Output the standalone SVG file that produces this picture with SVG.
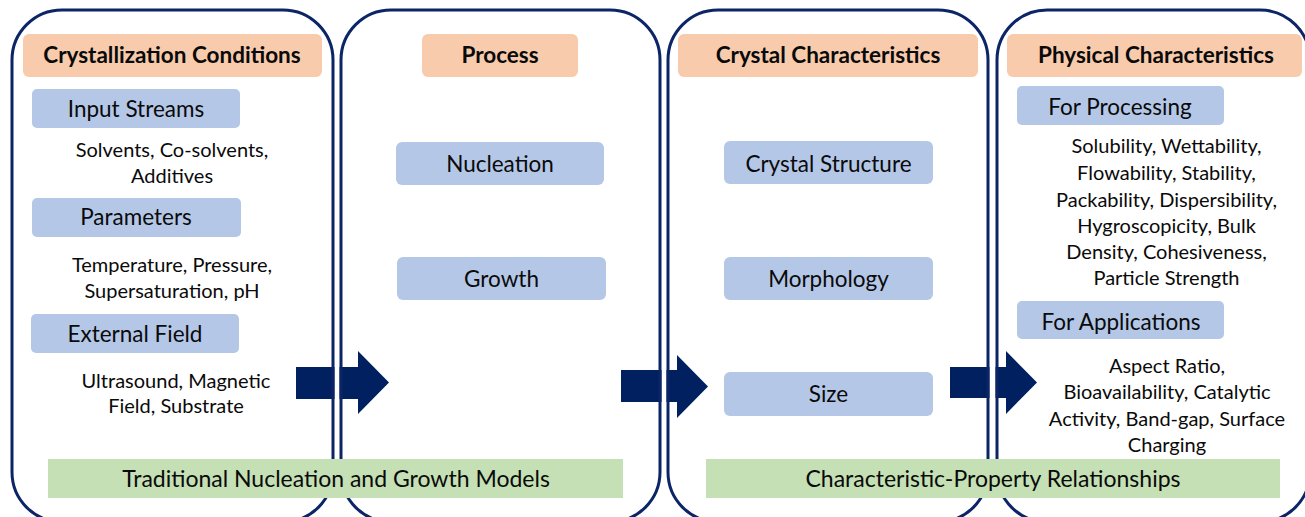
<svg xmlns="http://www.w3.org/2000/svg" width="1305" height="517" viewBox="0 0 1305 517">
  <style>
    .panel { fill: none; stroke: #0B2566; stroke-width: 3; }
    .hdr { fill: #F8CBAD; }
    .box { fill: #B4C7E7; }
    .bar { fill: #C5E0B4; }
    .arrow { fill: #002060; }
    .gap { fill: #FFFFFF; }
    text { font-family: Lato, "Liberation Sans", sans-serif; fill: #0A0A0A; text-anchor: middle; }
    .ht { font-size: 22.5px; font-weight: bold; }
    .bt { font-size: 22.5px; }
    .tx { font-size: 20px; }
    .gt { font-size: 23px; }
  </style>
  <rect width="1305" height="517" fill="#FFFFFF"/>

  <g id="connectors">
    <polygon class="arrow" points="296,367 358,367 358,351 389,382.5 358,414 358,399 296,399"/>
    <polygon class="arrow" points="621,370 677,370 677,355 708,386.5 677,418 677,402 621,402"/>
    <polygon class="arrow" points="950,367 1006,367 1006,351 1037,382.5 1006,414 1006,398 950,398"/>
    <rect class="gap" x="334.5" y="360" width="5" height="46"/>
    <rect class="gap" x="661.5" y="360" width="5" height="50"/>
    <rect class="gap" x="989.5" y="360" width="6" height="46"/>
  </g>

  <g id="panel-conditions">
    <rect class="panel" x="12" y="10" width="321" height="512" rx="50"/>
    <rect class="hdr" x="23" y="34" width="299" height="43" rx="6"/>
    <text class="ht" x="172" y="63">Crystallization Conditions</text>
    <rect class="box" x="32" y="89" width="208" height="39" rx="5"/>
    <text class="bt" x="136" y="117">Input Streams</text>
    <text class="tx" x="172" y="157">Solvents, Co-solvents,</text>
    <text class="tx" x="172" y="183">Additives</text>
    <rect class="box" x="32" y="198" width="209" height="39" rx="5"/>
    <text class="bt" x="136" y="225">Parameters</text>
    <text class="tx" x="172" y="272">Temperature, Pressure,</text>
    <text class="tx" x="172" y="298">Supersaturation, pH</text>
    <rect class="box" x="31" y="314" width="208" height="39" rx="5"/>
    <text class="bt" x="135" y="342">External Field</text>
    <text class="tx" x="176" y="388">Ultrasound, Magnetic</text>
    <text class="tx" x="176" y="413">Field, Substrate</text>
  </g>

  <g id="panel-process">
    <rect class="panel" x="341" y="10" width="319" height="512" rx="50"/>
    <rect class="hdr" x="422" y="34" width="156" height="43" rx="6"/>
    <text class="ht" x="500" y="63">Process</text>
    <rect class="box" x="396" y="142" width="208" height="43" rx="6"/>
    <text class="bt" x="500" y="172">Nucleation</text>
    <rect class="box" x="397" y="257" width="209" height="43" rx="6"/>
    <text class="bt" x="501.5" y="287">Growth</text>
  </g>

  <g id="panel-crystal">
    <rect class="panel" x="668" y="10" width="320" height="512" rx="50"/>
    <rect class="hdr" x="678" y="34" width="300" height="43" rx="6"/>
    <text class="ht" x="828" y="63">Crystal Characteristics</text>
    <rect class="box" x="724" y="141" width="209" height="43" rx="6"/>
    <text class="bt" x="828.5" y="172">Crystal Structure</text>
    <rect class="box" x="724" y="257" width="209" height="43" rx="6"/>
    <text class="bt" x="828.5" y="287">Morphology</text>
    <rect class="box" x="724" y="372" width="209" height="44" rx="6"/>
    <text class="bt" x="828.5" y="402">Size</text>
  </g>

  <g id="panel-physical">
    <rect class="panel" x="997" y="10" width="313" height="512" rx="50"/>
    <rect class="hdr" x="1007" y="34" width="295" height="43" rx="6"/>
    <text class="ht" x="1156" y="63">Physical Characteristics</text>
    <rect class="box" x="1017" y="86" width="207" height="39" rx="5"/>
    <text class="bt" x="1120" y="115">For Processing</text>
    <text class="tx" x="1166.5" y="153">Solubility, Wettability,</text>
    <text class="tx" x="1166.5" y="180">Flowability, Stability,</text>
    <text class="tx" x="1166.5" y="207">Packability, Dispersibility,</text>
    <text class="tx" x="1166.5" y="233">Hygroscopicity, Bulk</text>
    <text class="tx" x="1166.5" y="259">Density, Cohesiveness,</text>
    <text class="tx" x="1166.5" y="285">Particle Strength</text>
    <rect class="box" x="1017" y="301" width="207" height="38" rx="5"/>
    <text class="bt" x="1121" y="330">For Applications</text>
    <text class="tx" x="1167" y="373">Aspect Ratio,</text>
    <text class="tx" x="1167" y="399">Bioavailability, Catalytic</text>
    <text class="tx" x="1167" y="426">Activity, Band-gap, Surface</text>
    <text class="tx" x="1167" y="452">Charging</text>
  </g>

  <g id="bar-models">
    <rect class="bar" x="48" y="459" width="575" height="39"/>
    <text class="gt" x="336" y="487">Traditional Nucleation and Growth Models</text>
  </g>

  <g id="bar-relationships">
    <rect class="bar" x="706" y="459" width="574" height="39"/>
    <text class="gt" x="993" y="487">Characteristic-Property Relationships</text>
  </g>
</svg>
